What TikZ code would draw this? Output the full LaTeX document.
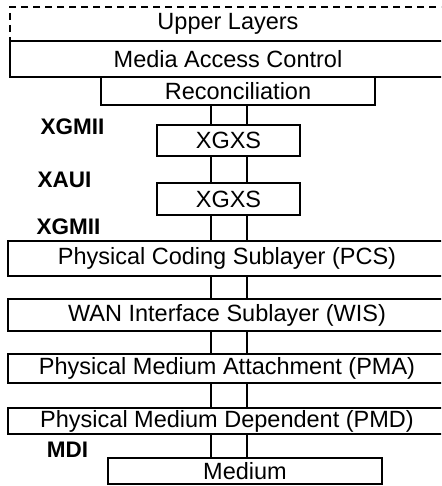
\documentclass[tikz,border=0pt]{standalone}
\usepackage{fontspec}
\setmainfont{Liberation Sans}
\newfontfamily\layerfont{Liberation Sans}
\usetikzlibrary{calc}
\usetikzlibrary{positioning}
\tikzset{
  layer/.style={draw, line width=1.5pt, inner sep=0pt, anchor=center,
    font=\layerfont\fontsize{23.5}{26}\selectfont},
  iface/.style={font=\bfseries\fontsize{22.5}{25}\selectfont, inner sep=0pt}
}

\begin{document}
\begin{tikzpicture}[x=1pt, y=-1pt]
          \clip (0,0) rectangle (441,486);

          \coordinate (la) at (211,0);
          \coordinate (lb) at (247,0);

          \node[layer, dashed, dash pattern=on 7pt off 5pt, minimum width=436pt, minimum height=34pt]
            (upper) at (228,24) {Upper Layers};
          \node[layer, minimum width=436pt, minimum height=36pt] (mac) at (228,59) {Media Access Control};
          \node[layer, minimum width=274pt, minimum height=28pt] (rec) at (238,91) {Reconciliation};
          \node[layer, minimum width=143pt, minimum height=31pt] (xgxsa) at (228.5,140.5) {XGXS};
          \node[layer, minimum width=143pt, minimum height=32pt] (xgxsb) at (228.5,199) {XGXS};
          \node[layer, minimum width=438pt, minimum height=35pt] (pcs) at (227,258.5) {Physical Coding Sublayer (PCS)};
          \node[layer, minimum width=438pt, minimum height=32pt] (wis) at (227,315) {WAN Interface Sublayer (WIS)};
          \node[layer, minimum width=438pt, minimum height=29pt] (pma) at (227,368.5) {Physical Medium Attachment (PMA)};
          \node[layer, minimum width=438pt, minimum height=26pt] (pmd) at (227,421) {Physical Medium Dependent (PMD)};
          \node[layer, minimum width=274pt, minimum height=26pt] (medium) at (245,471) {Medium};

          \foreach \a/\b in {rec/xgxsa, xgxsa/xgxsb, xgxsb/pcs, pcs/wis, wis/pma, pma/pmd, pmd/medium}{
            \draw[line width=1.2pt] (\a.south -| la) -- (\b.north -| la)
              (\a.south -| lb) -- (\b.north -| lb);
          }

          \node[iface] (xgmiia) at (72.5,127) {XGMII};
          \node[iface] (xaui) at (64.5,180) {XAUI};
          \node[iface] (xgmiib) at (68.5,227) {XGMII};
          \node[iface] (mdi) at (67.5,450) {MDI};

        \end{tikzpicture}
\end{document}
